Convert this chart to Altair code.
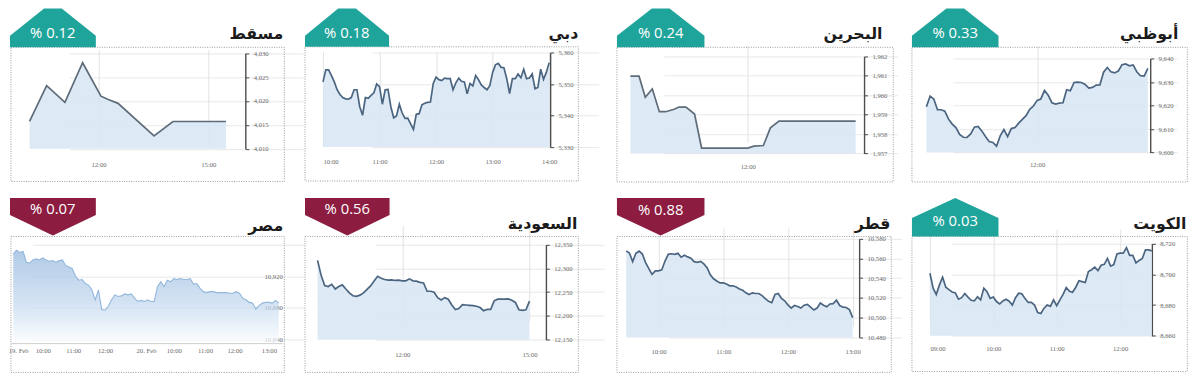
import altair as alt
import pandas as pd

# ---------------- data ----------------
NAMES = ["مسقط", "دبي", "البحرين", "أبوظبي", "مصر", "السعودية", "قطر", "الكويت"]
CHANGES = ["% 0.12", "% 0.18", "% 0.24", "% 0.33", "% 0.07", "% 0.56", "% 0.88", "% 0.03"]
DIRECTION = ["up", "up", "up", "up", "down", "down", "down", "up"]

# times are minutes since midnight
MUSCAT_T = [607, 635, 665, 694, 724, 736, 752, 811, 842, 929]
MUSCAT_V = [4015.7, 4023.2, 4019.7, 4028.0, 4021.0, 4020.3, 4019.5, 4012.7, 4015.7, 4015.7]

DUBAI_T = [600, 603, 606, 609, 612, 615, 618, 621, 624, 627,
           630, 633, 636, 639, 642, 645, 648, 651, 654, 657,
           660, 663, 666, 669, 672, 675, 678, 681, 684, 687,
           690, 693, 696, 699, 702, 705, 708, 711, 714, 717,
           720, 723, 726, 729, 732, 735, 738, 741, 744, 747,
           750, 753, 756, 759, 762, 765, 768, 771, 774, 777,
           780, 783, 786, 789, 792, 795, 798, 801, 804, 807,
           810, 813, 816, 819, 822, 825, 828, 831, 834, 837,
           840]
DUBAI_V = [5350.7, 5354.5, 5354.5, 5352.7, 5350.7, 5348.2, 5346.7, 5345.7, 5345.3, 5345.2,
           5345.7, 5348.2, 5348.2, 5342.8, 5340.1, 5345.7, 5345.5, 5346.4, 5347.2, 5350.0,
           5349.2, 5343.6, 5348.2, 5348.3, 5342.8, 5339.3, 5339.9, 5343.6, 5340.8, 5339.1,
           5339.2, 5337.4, 5335.6, 5340.4, 5340.6, 5343.4, 5343.9, 5344.2, 5344.3, 5350.2,
           5352.2, 5351.4, 5351.1, 5351.9, 5351.7, 5351.7, 5348.2, 5350.4, 5351.9, 5350.9,
           5350.7, 5346.9, 5350.2, 5349.4, 5352.7, 5351.4, 5349.7, 5348.9, 5348.2, 5349.5,
           5353.7, 5356.1, 5356.6, 5355.3, 5355.2, 5351.7, 5347.0, 5351.7, 5351.7, 5353.2,
           5352.0, 5354.7, 5351.7, 5351.9, 5353.2, 5348.5, 5348.9, 5354.7, 5351.5, 5353.7,
           5356.8]

BAHRAIN_T = [570, 581, 589, 598, 607, 615, 626, 632, 641, 652, 661, 720, 728, 740, 749, 760, 858]
BAHRAIN_V = [1960.98, 1960.98, 1959.89, 1960.32, 1959.15, 1959.15, 1959.28, 1959.39, 1959.39,
             1959.03, 1957.28, 1957.28, 1957.38, 1957.41, 1958.32, 1958.67, 1958.67]

ABUDHABI_T = [600, 604, 608, 612, 616, 620, 624, 628, 632, 636,
              640, 644, 648, 652, 656, 660, 664, 668, 672, 676,
              680, 684, 688, 692, 696, 700, 704, 708, 712, 716,
              720, 724, 728, 732, 736, 740, 744, 748, 752, 756,
              760, 764, 768, 772, 776, 780, 784, 788, 792, 796,
              800, 804, 808, 812, 816, 820, 824, 828, 832, 836,
              840]
ABUDHABI_V = [9619.5, 9624.0, 9622.8, 9618.2, 9618.2, 9617.6, 9614.2, 9612.1, 9610.6, 9607.7,
              9606.5, 9606.4, 9607.9, 9610.8, 9611.1, 9609.2, 9606.8, 9604.7, 9604.3, 9602.7,
              9607.1, 9609.8, 9606.8, 9610.2, 9610.6, 9612.5, 9614.1, 9615.7, 9618.4, 9619.8,
              9622.2, 9622.8, 9626.4, 9624.4, 9621.2, 9620.6, 9621.0, 9621.2, 9626.7, 9626.3,
              9629.8, 9630.0, 9629.8, 9629.0, 9627.4, 9627.7, 9628.7, 9628.8, 9634.2, 9636.2,
              9634.4, 9633.9, 9634.7, 9637.4, 9637.7, 9636.9, 9637.3, 9634.4, 9632.7, 9632.5,
              9635.8]

# Egypt: two-session chart, x is the position along the session axis
EGYPT_X = [10, 20, 30, 40, 50, 60, 70, 80, 90, 100,
           110, 120, 130, 140, 150, 160, 170, 180, 190, 200,
           210, 220, 230, 240, 250, 260, 270, 280, 290, 300,
           310, 320, 330, 340, 350, 360, 370, 380, 390, 400,
           410, 420, 430, 440, 450, 460, 470, 480, 490, 500,
           510, 520, 530, 540, 550, 560, 570, 580, 590, 600,
           610, 620, 630, 640, 650, 660, 670, 680, 690, 700,
           710, 720, 730, 740, 750, 760, 770, 780, 790, 800,
           810, 820]
EGYPT_V = [10948.3, 10953.3, 10950.4, 10951.7, 10937.9, 10936.7, 10940.8, 10942.1, 10940.8, 10943.3,
           10940.8, 10939.2, 10940.0, 10937.9, 10940.0, 10940.8, 10933.8, 10931.7, 10929.6, 10920.0,
           10915.0, 10915.8, 10910.8, 10908.8, 10902.5, 10890.0, 10902.5, 10877.5, 10876.7, 10881.7,
           10890.0, 10896.3, 10894.2, 10895.0, 10897.5, 10896.3, 10897.5, 10892.1, 10887.9, 10889.2,
           10887.9, 10890.0, 10887.9, 10887.9, 10906.7, 10912.9, 10906.7, 10915.0, 10912.9, 10917.1,
           10915.8, 10917.1, 10915.8, 10915.8, 10917.1, 10910.0, 10910.8, 10904.6, 10900.4, 10899.2,
           10900.4, 10900.4, 10899.2, 10899.2, 10899.2, 10899.2, 10898.3, 10898.3, 10900.4, 10898.3,
           10892.1, 10890.0, 10886.7, 10885.8, 10878.3, 10882.5, 10885.8, 10886.7, 10886.7, 10885.8,
           10889.2, 10885.8]

SAUDI_T = [600, 605, 610, 615, 620, 625, 630, 635, 640, 645,
           650, 655, 660, 665, 670, 675, 680, 685, 690, 695,
           700, 705, 710, 715, 720, 725, 730, 735, 740, 745,
           750, 755, 760, 765, 770, 775, 780, 785, 790, 795,
           800, 805, 810, 815, 820, 825, 830, 835, 840, 845,
           850, 855, 860, 865, 870, 875, 880, 885, 890, 895,
           900]
SAUDI_V = [12316.6, 12285.1, 12263.7, 12261.7, 12266.4, 12256.4, 12261.7, 12265.1, 12256.4, 12248.3,
           12242.3, 12241.0, 12243.6, 12248.3, 12255.7, 12263.0, 12273.1, 12283.1, 12279.1, 12276.4,
           12275.1, 12275.7, 12274.4, 12275.1, 12273.7, 12273.7, 12277.8, 12273.7, 12273.1, 12270.4,
           12269.1, 12251.7, 12251.7, 12249.7, 12238.3, 12233.6, 12238.3, 12235.0, 12222.9, 12213.5,
           12215.6, 12223.6, 12222.9, 12222.2, 12221.6, 12220.2, 12217.6, 12210.9, 12213.5, 12213.5,
           12231.6, 12235.0, 12235.0, 12235.0, 12235.6, 12232.9, 12228.3, 12212.9, 12211.5, 12212.9,
           12231.0]

QATAR_T = [570, 573, 576, 579, 582, 585, 588, 591, 594, 597,
           600, 603, 606, 609, 612, 615, 618, 621, 624, 627,
           630, 633, 636, 639, 642, 645, 648, 651, 654, 657,
           660, 663, 666, 669, 672, 675, 678, 681, 684, 687,
           690, 693, 696, 699, 702, 705, 708, 711, 714, 717,
           720, 723, 726, 729, 732, 735, 738, 741, 744, 747,
           750, 753, 756, 759, 762, 765, 768, 771, 774, 777,
           780]
QATAR_V = [10567.7, 10565.5, 10556.8, 10565.2, 10567.4, 10564.5, 10555.8, 10549.7, 10543.9, 10547.4,
           10547.4, 10548.4, 10557.4, 10564.2, 10564.8, 10564.2, 10565.2, 10561.3, 10563.2, 10561.6,
           10560.3, 10556.8, 10556.1, 10557.1, 10554.5, 10550.6, 10543.5, 10539.4, 10537.1, 10535.2,
           10535.2, 10534.2, 10532.3, 10532.3, 10531.0, 10529.0, 10527.7, 10525.2, 10523.5, 10525.2,
           10524.5, 10524.5, 10522.3, 10519.4, 10516.5, 10515.2, 10523.5, 10524.5, 10519.4, 10517.1,
           10512.9, 10509.7, 10512.3, 10511.3, 10509.7, 10512.6, 10513.5, 10510.6, 10507.7, 10509.7,
           10514.8, 10512.6, 10511.0, 10513.9, 10514.2, 10517.7, 10512.3, 10510.6, 10510.3, 10508.1,
           10500.0]

KUWAIT_T = [540, 543, 546, 549, 552, 555, 558, 561, 564, 567,
            570, 573, 576, 579, 582, 585, 588, 591, 594, 597,
            600, 603, 606, 609, 612, 615, 618, 621, 624, 627,
            630, 633, 636, 639, 642, 645, 648, 651, 654, 657,
            660, 663, 666, 669, 672, 675, 678, 681, 684, 687,
            690, 693, 696, 699, 702, 705, 708, 711, 714, 717,
            720, 723, 726, 729, 732, 735, 738, 741, 744, 747,
            750]
KUWAIT_V = [8700.7, 8691.0, 8686.9, 8693.1, 8698.1, 8691.6, 8690.0, 8688.5, 8687.9, 8683.8,
            8684.8, 8687.5, 8685.2, 8683.1, 8682.7, 8685.4, 8683.4, 8691.0, 8688.7, 8684.4,
            8685.2, 8682.3, 8680.7, 8682.7, 8683.8, 8682.5, 8680.0, 8684.8, 8687.7, 8687.3,
            8684.2, 8681.7, 8681.7, 8680.0, 8675.1, 8674.5, 8678.0, 8680.0, 8679.2, 8683.4,
            8679.6, 8683.4, 8686.9, 8691.4, 8688.9, 8688.3, 8691.6, 8695.8, 8695.2, 8694.7,
            8701.8, 8703.0, 8704.7, 8702.4, 8705.9, 8706.5, 8710.3, 8705.3, 8706.3, 8713.2,
            8713.8, 8713.8, 8717.3, 8712.3, 8712.3, 8707.4, 8709.0, 8710.3, 8715.9, 8715.9,
            8715.2]

# axis ticks
Y_TICKS = [
    [4010, 4015, 4020, 4025, 4030],
    [5330, 5340, 5350, 5360],
    [1957, 1958, 1959, 1960, 1961, 1962],
    [9600, 9610, 9620, 9630, 9640],
    [10840, 10880, 10920, 10960],
    [12150, 12200, 12250, 12300, 12350],
    [10480, 10500, 10520, 10540, 10560, 10580],
    [8660, 8680, 8700, 8720],
]
X_TICKS = [
    [720, 900],
    [600, 660, 720, 780, 840],
    [720],
    [720],
    [25, 100, 193, 290, 415, 500, 595, 685, 790],
    [720, 900],
    [600, 660, 720, 780],
    [540, 600, 660, 720],
]
EGYPT_XLABELS = ["19. Feb", "10:00", "11:00", "12:00", "20. Feb", "10:00", "11:00", "12:00", "13:00"]

SERIES = [
    (MUSCAT_T, MUSCAT_V), (DUBAI_T, DUBAI_V), (BAHRAIN_T, BAHRAIN_V), (ABUDHABI_T, ABUDHABI_V),
    (EGYPT_X, EGYPT_V), (SAUDI_T, SAUDI_V), (QATAR_T, QATAR_V), (KUWAIT_T, KUWAIT_V),
]

# ---------------- layout (reference pixel coordinates) ----------------
SX = 1184 / 1200
SY = 366 / 382
COL_X = [0, 300, 617, 916]
COL_W = [300, 317, 299, 284]
ROW_Y = [0, 190]
ROW_H = [190, 192]

TEAL = "#1fa49b"
MAROON = "#8c1c40"
FILL = "#d7e6f5"
LINE = "#4b6580"
GRID = "#e2e2e2"
AXIS = "#4d4d4d"
LABEL = "#6b6b6b"
LABEL_FONT = "Liberation Serif"

LAYOUT = [
    dict(box=(1, 40.5, 279, 181), badge=(0, 87.3, 0, 28.3, 40.5), btext=(43.5, 26.7), title=(278, 32),
         xa=(720, 90), xb=(900, 201.7), xr=(2, 239.3), ya=(4030, 46.7), yb=(4010, 146.7),
         axis_x=239.3, xlab_y=163),
    dict(box=(300, 40, 578, 180.5), badge=(300, 385.5, 0, 28.3, 40), btext=(342.5, 26.7), title=(578, 32),
         xa=(600, 318.3), xb=(840, 548.3), xr=(318.3, 549.3), ya=(5360, 46), yb=(5330, 145),
         axis_x=549.3, xlab_y=160),
    dict(box=(617, 40.5, 898, 181.5), badge=(617, 706, 0, 28.3, 40.5), btext=(661.5, 26.7), title=(887, 32),
         xa=(570, 630.7), xb=(720, 750), xr=(630.7, 868.3), ya=(1962, 50), yb=(1957, 151.7),
         axis_x=868.3, xlab_y=165),
    dict(box=(916, 40.5, 1196, 181.5), badge=(916, 1004, 0, 28.3, 40.5), btext=(960, 26.7), title=(1187, 32),
         xa=(600, 930.7), xb=(720, 1043.3), xr=(930.7, 1158.3), ya=(9640, 52.3), yb=(9600, 150.7),
         axis_x=1158.3, xlab_y=163),
    dict(box=(1, 237.7, 279, 380), badge=(0, 87.3, 197.3, 215, 236.5), btext=(43.5, 209.7), title=(278, 231.7),
         xa=(10, 3.3), xb=(820, 273.3), xr=(1, 277), ya=(10920, 279.3), yb=(10840, 345),
         yr=(349.3, 246), axis_x=277, xlab_y=357.3, base_y=349.3),
    dict(box=(300, 237.7, 578, 380), badge=(300, 386, 197.3, 215, 236.5), btext=(343, 209.7), title=(577, 230),
         xa=(720, 399), xb=(900, 528.3), xr=(312.8, 545), ya=(12350, 246), yb=(12150, 345.7),
         axis_x=545, xlab_y=361.7),
    dict(box=(617, 237.7, 896, 380), badge=(617, 706, 197.3, 215, 236.5), btext=(661.5, 210.5), title=(895, 230),
         xa=(600, 659.3), xb=(780, 856.7), xr=(626.4, 863.3), ya=(10580, 240), yb=(10480, 343.3),
         axis_x=863.3, xlab_y=358.3),
    dict(box=(916, 237.7, 1196, 379), badge=(916, 1004, 197.3, 218.3, 237.7), btext=(960, 222.5), title=(1195, 230),
         xa=(540, 934.3), xb=(720, 1127.7), xr=(934.3, 1160), ya=(8720, 245), yb=(8660, 341.7),
         axis_x=1160, xlab_y=355),
]

TIME_EXPR = "(floor(datum.value/60) < 10 ? '0' : '') + floor(datum.value/60) + ':00'"


def badge_path(kind, x0, x1, y_a, y_b, y_c, row_top_flat):
    """returns (svg path in local px relative to anchor, anchor_x, anchor_y) in ref coords"""
    xc = (x0 + x1) / 2
    if kind == "up":
        # y_a = tip, y_b = shoulder, y_c = base
        if row_top_flat:
            pts = [(x0, y_c), (x0, y_b), (xc - 9, y_a), (xc + 9, y_a), (x1, y_b), (x1, y_c)]
        else:
            pts = [(x0, y_c), (x0, y_b), (xc, y_a), (x1, y_b), (x1, y_c)]
        ay = y_c
    else:
        # y_a = top, y_b = shoulder, y_c = tip
        pts = [(x0, y_a), (x1, y_a), (x1, y_b), (xc, y_c), (x0, y_b)]
        ay = y_a
    d = "M" + " L".join(f"{(px - xc) * SX:.2f},{(py - ay) * SY:.2f}" for px, py in pts) + " Z"
    return d, xc, ay


panels = []
for i in range(8):
    col, row = i % 4, i // 4
    ox, oy = COL_X[col], ROW_Y[row]
    W = COL_W[col] * SX
    H = ROW_H[row] * SY
    L = LAYOUT[i]

    def lx(x):
        return (x - ox) * SX

    def ly(y):
        return (y - oy) * SY

    egypt = i == 4

    # scales
    (ta, pa), (tb, pb) = L["xa"], L["xb"]
    xs = (pb - pa) / (tb - ta)
    r0, r1 = L["xr"]
    xdom = [ta + (r0 - pa) / xs, ta + (r1 - pa) / xs]
    (va, qa), (vb, qb) = L["ya"], L["yb"]
    ys = (qb - qa) / (va - vb)
    q_bot, q_top = L.get("yr", (qb, qa))
    ydom = [va - (q_bot - qa) / ys, va - (q_top - qa) / ys]
    xscale = alt.Scale(domain=xdom, range=[lx(r0), lx(r1)], nice=False, zero=False)
    yscale = alt.Scale(domain=ydom, range=[ly(q_bot), ly(q_top)], nice=False, zero=False)

    lab_size = 7 * SY
    if egypt:
        pos_list = ",".join(str(v) for v in X_TICKS[i])
        lab_list = ",".join(f"'{s}'" for s in EGYPT_XLABELS)
        xaxis = alt.Axis(
            values=X_TICKS[i], labelExpr=f"[{lab_list}][indexof([{pos_list}], datum.value)]",
            grid=False, domain=True, domainColor="#cfcfcf", domainWidth=1, ticks=False, tickSize=0,
            labelPadding=(L["xlab_y"] - L["base_y"]) * SY, labelBaseline="middle",
            labelFont=LABEL_FONT, labelFontSize=lab_size, labelColor=LABEL,
            offset=ly(L["base_y"]) - H, title=None, labelFlush=False, labelOverlap=False,
        )
        yaxis = alt.Axis(
            orient="right", values=Y_TICKS[i],
            labelExpr="datum.value == 10960 ? '' : format(datum.value, ',')",
            domain=False, ticks=False, tickSize=0, labelPadding=0, labelAlign="right",
            labelBaseline="middle", labelFont=LABEL_FONT, labelFontSize=lab_size, labelColor=LABEL,
            grid=True, gridColor=GRID, gridWidth=0.8, offset=lx(L["axis_x"]) - W, title=None,
            labelFlush=False, labelOverlap=False,
        )
    else:
        xaxis = alt.Axis(
            values=X_TICKS[i], labelExpr=TIME_EXPR, grid=True, gridColor="#dadada", gridWidth=0.8,
            domain=False, ticks=False, tickSize=0, labelPadding=0, labelBaseline="middle",
            labelFont=LABEL_FONT, labelFontSize=lab_size, labelColor=LABEL,
            offset=ly(L["xlab_y"]) - H, title=None, labelFlush=0.5, labelOverlap=False,
        )
        yaxis = alt.Axis(
            orient="right", values=Y_TICKS[i], format=",d",
            domain=True, domainColor=AXIS, domainWidth=1.4, ticks=True, tickSize=3.5 * SX,
            tickColor=AXIS, tickWidth=1, labelPadding=4.5 * SX, labelAlign="left",
            labelBaseline="middle", labelFont=LABEL_FONT, labelFontSize=lab_size, labelColor=LABEL,
            grid=True, gridColor=GRID, gridWidth=0.8, offset=lx(L["axis_x"]) - W, title=None,
            labelFlush=False, labelOverlap=False,
        )

    t, v = SERIES[i]
    df = pd.DataFrame({"t": t, "v": v})
    if egypt:
        area = alt.Chart(df).mark_area(
            color=alt.Gradient(
                gradient="linear",
                stops=[alt.GradientStop(color="#8fb4dc", offset=0),
                       alt.GradientStop(color="#c4d9ef", offset=0.6),
                       alt.GradientStop(color="#fbfdff", offset=1)],
                x1=1, x2=1, y1=0, y2=1,
            ),
            line={"color": "#92b6dc", "strokeWidth": 1.1},
        )
    else:
        lc = "#5e6c7a" if i in (0, 2) else LINE
        area = alt.Chart(df).mark_area(
            color=FILL, fillOpacity=0.85, line={"color": lc, "strokeWidth": 1.7},
        )
    area = area.encode(
        x=alt.X("t:Q", scale=xscale, axis=xaxis),
        y=alt.Y("v:Q", scale=yscale, axis=yaxis),
        y2=alt.datum(ydom[0]),
    )

    one = pd.DataFrame({"name": [NAMES[i]], "change": [CHANGES[i]]})
    bx0, by0, bx1, by1 = L["box"]
    box = alt.Chart(one).mark_rect(
        fill="#ffffff", fillOpacity=0, stroke="#9a9a9a", strokeWidth=1, strokeDash=[1, 1.4],
    ).encode(x=alt.value(lx(bx0)), x2=alt.value(lx(bx1)), y=alt.value(ly(by0)), y2=alt.value(ly(by1)))

    kx0, kx1, ka, kb, kc = L["badge"]
    path, axx, ayy = badge_path(DIRECTION[i], kx0, kx1, ka, kb, kc, row == 0)
    bcolor = TEAL if DIRECTION[i] == "up" else MAROON
    badge = alt.Chart(one).mark_point(
        shape=path, size=4, filled=True, color=bcolor, opacity=1, strokeWidth=0,
    ).encode(x=alt.value(lx(axx)), y=alt.value(ly(ayy)))

    btx, bty = L["btext"]
    btext = alt.Chart(one).mark_text(
        color="#ffffff", font="Open Sans", fontSize=15.5 * SY, align="center", baseline="middle",
    ).encode(x=alt.value(lx(btx)), y=alt.value(ly(bty)), text="change:N")

    ttx, tty = L["title"]
    title = alt.Chart(one).mark_text(
        color="#1b1b1b", font="DejaVu Sans", fontWeight="bold", fontSize=16.5 * SY,
        align="right", baseline="alphabetic",
    ).encode(x=alt.value(lx(ttx)), y=alt.value(ly(tty)), text="name:N")

    panels.append(alt.layer(box, area, badge, btext, title).properties(width=W, height=H))

chart = alt.concat(*panels, columns=4, spacing=0, bounds="flush", padding=0).configure_view(stroke=None)
chart.save("out.html", embed_options={"renderer": "svg", "actions": False})
